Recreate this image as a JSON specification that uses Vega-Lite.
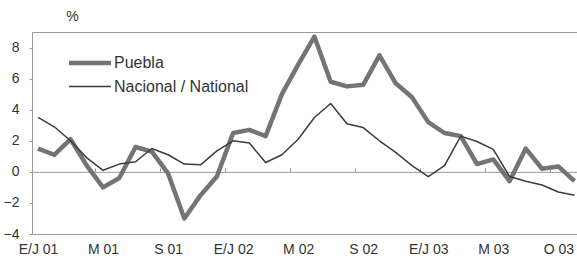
{
  "$schema": "https://vega.github.io/schema/vega-lite/v6.json",
  "width": 545,
  "height": 202,
  "autosize": {"type": "none"},
  "padding": {"left": 32, "top": 32, "right": 0, "bottom": 30},
  "background": "white",
  "config": {
    "view": {"stroke": "#9a9a9a", "strokeWidth": 1},
    "font": "Liberation Sans",
    "axis": {"labelFont": "Liberation Sans", "labelColor": "#333333", "titleColor": "#333333", "domainColor": "#9a9a9a", "tickColor": "#9a9a9a", "grid": false},
    "legend": {"rowPadding": 3, "symbolSize": 441, "symbolType": "M-2,0H2", "symbolOffset": 11, "symbolFillColor": "transparent", "labelFontSize": 16, "labelColor": "#333333", "labelOffset": 11, "labelLimit": 300}
  },
  "data": {
    "values": [
      {"i": 0, "serie": "Puebla", "v": 1.5}, {"i": 1, "serie": "Puebla", "v": 1.1}, {"i": 2, "serie": "Puebla", "v": 2.1},
      {"i": 3, "serie": "Puebla", "v": 0.4}, {"i": 4, "serie": "Puebla", "v": -1.0}, {"i": 5, "serie": "Puebla", "v": -0.4},
      {"i": 6, "serie": "Puebla", "v": 1.6}, {"i": 7, "serie": "Puebla", "v": 1.3}, {"i": 8, "serie": "Puebla", "v": -0.1},
      {"i": 9, "serie": "Puebla", "v": -3.0}, {"i": 10, "serie": "Puebla", "v": -1.5}, {"i": 11, "serie": "Puebla", "v": -0.3},
      {"i": 12, "serie": "Puebla", "v": 2.5}, {"i": 13, "serie": "Puebla", "v": 2.7}, {"i": 14, "serie": "Puebla", "v": 2.3},
      {"i": 15, "serie": "Puebla", "v": 5.0}, {"i": 16, "serie": "Puebla", "v": 6.9}, {"i": 17, "serie": "Puebla", "v": 8.7},
      {"i": 18, "serie": "Puebla", "v": 5.8}, {"i": 19, "serie": "Puebla", "v": 5.5}, {"i": 20, "serie": "Puebla", "v": 5.6},
      {"i": 21, "serie": "Puebla", "v": 7.5}, {"i": 22, "serie": "Puebla", "v": 5.7}, {"i": 23, "serie": "Puebla", "v": 4.8},
      {"i": 24, "serie": "Puebla", "v": 3.2}, {"i": 25, "serie": "Puebla", "v": 2.5}, {"i": 26, "serie": "Puebla", "v": 2.3},
      {"i": 27, "serie": "Puebla", "v": 0.5}, {"i": 28, "serie": "Puebla", "v": 0.8}, {"i": 29, "serie": "Puebla", "v": -0.6},
      {"i": 30, "serie": "Puebla", "v": 1.5}, {"i": 31, "serie": "Puebla", "v": 0.2}, {"i": 32, "serie": "Puebla", "v": 0.35},
      {"i": 33, "serie": "Puebla", "v": -0.6},
      {"i": 0, "serie": "Nacional / National", "v": 3.5}, {"i": 1, "serie": "Nacional / National", "v": 2.9}, {"i": 2, "serie": "Nacional / National", "v": 2.0},
      {"i": 3, "serie": "Nacional / National", "v": 0.9}, {"i": 4, "serie": "Nacional / National", "v": 0.1}, {"i": 5, "serie": "Nacional / National", "v": 0.5},
      {"i": 6, "serie": "Nacional / National", "v": 0.65}, {"i": 7, "serie": "Nacional / National", "v": 1.5}, {"i": 8, "serie": "Nacional / National", "v": 1.1},
      {"i": 9, "serie": "Nacional / National", "v": 0.5}, {"i": 10, "serie": "Nacional / National", "v": 0.45}, {"i": 11, "serie": "Nacional / National", "v": 1.35},
      {"i": 12, "serie": "Nacional / National", "v": 2.0}, {"i": 13, "serie": "Nacional / National", "v": 1.85}, {"i": 14, "serie": "Nacional / National", "v": 0.6},
      {"i": 15, "serie": "Nacional / National", "v": 1.1}, {"i": 16, "serie": "Nacional / National", "v": 2.1}, {"i": 17, "serie": "Nacional / National", "v": 3.5},
      {"i": 18, "serie": "Nacional / National", "v": 4.4}, {"i": 19, "serie": "Nacional / National", "v": 3.1}, {"i": 20, "serie": "Nacional / National", "v": 2.85},
      {"i": 21, "serie": "Nacional / National", "v": 2.0}, {"i": 22, "serie": "Nacional / National", "v": 1.25}, {"i": 23, "serie": "Nacional / National", "v": 0.4},
      {"i": 24, "serie": "Nacional / National", "v": -0.3}, {"i": 25, "serie": "Nacional / National", "v": 0.4}, {"i": 26, "serie": "Nacional / National", "v": 2.3},
      {"i": 27, "serie": "Nacional / National", "v": 1.95}, {"i": 28, "serie": "Nacional / National", "v": 1.45}, {"i": 29, "serie": "Nacional / National", "v": -0.3},
      {"i": 30, "serie": "Nacional / National", "v": -0.6}, {"i": 31, "serie": "Nacional / National", "v": -0.85}, {"i": 32, "serie": "Nacional / National", "v": -1.3},
      {"i": 33, "serie": "Nacional / National", "v": -1.5}
    ]
  },
  "resolve": {"axis": {"x": "independent"}},
  "layer": [
    {
      "mark": {"type": "point", "opacity": 0},
      "encoding": {
        "x": {"field": "i", "type": "quantitative", "scale": {"domain": [-0.37, 33.15], "nice": false, "zero": false},
              "axis": {"orient": "top", "offset": -139.85, "values": [3.5, 7.5, 11.5, 15.5, 19.5, 23.5, 27.5, 31.5], "labels": false, "tickSize": 4, "title": null, "domainColor": "#9a9a9a"}},
        "y": {"field": "v", "type": "quantitative", "scale": {"domain": [-4, 9], "nice": false},
              "axis": {"values": [-4, -2, 0, 2, 4, 6, 8], "tickSize": 3, "labelFontSize": 14, "labelPadding": 10, "labelOverlap": false, "labelFlush": false,
                       "title": "%", "titleAngle": 0, "titleFontSize": 14, "titleFontWeight": "normal", "titleX": 40, "titleY": -9, "titleAlign": "center"}}
      }
    },
    {
      "mark": {"type": "line", "strokeJoin": "round", "strokeCap": "butt"},
      "encoding": {
        "x": {"field": "i", "type": "quantitative",
              "axis": {"orient": "bottom", "values": [0, 4, 8, 12, 16, 20, 24, 28, 32], "ticks": false, "labelFontSize": 14, "labelPadding": 8, "title": null,
                       "labelFlush": false, "labelOverlap": false,
                       "labelExpr": "['E/J 01','M 01','S 01','E/J 02','M 02','S 02','E/J 03','M 03','O 03'][round(datum.value/4)]"}},
        "y": {"field": "v", "type": "quantitative",
              "axis": {"values": [-4, -2, 0, 2, 4, 6, 8], "tickSize": 3, "labelFontSize": 14, "labelPadding": 10, "labelOverlap": false, "labelFlush": false,
                       "title": "%", "titleAngle": 0, "titleFontSize": 14, "titleFontWeight": "normal", "titleX": 40, "titleY": -9, "titleAlign": "center"}},
        "color": {"field": "serie", "type": "nominal",
                  "scale": {"domain": ["Puebla", "Nacional / National"], "range": ["#747474", "#3c3c3c"]},
                  "legend": {"orient": "none", "legendX": 34, "legendY": 18, "title": null}},
        "strokeWidth": {"field": "serie", "type": "nominal",
                        "scale": {"domain": ["Puebla", "Nacional / National"], "range": [4.5, 1.5]},
                        "legend": {"orient": "none", "legendX": 34, "legendY": 18, "title": null}}
      }
    }
  ]
}
